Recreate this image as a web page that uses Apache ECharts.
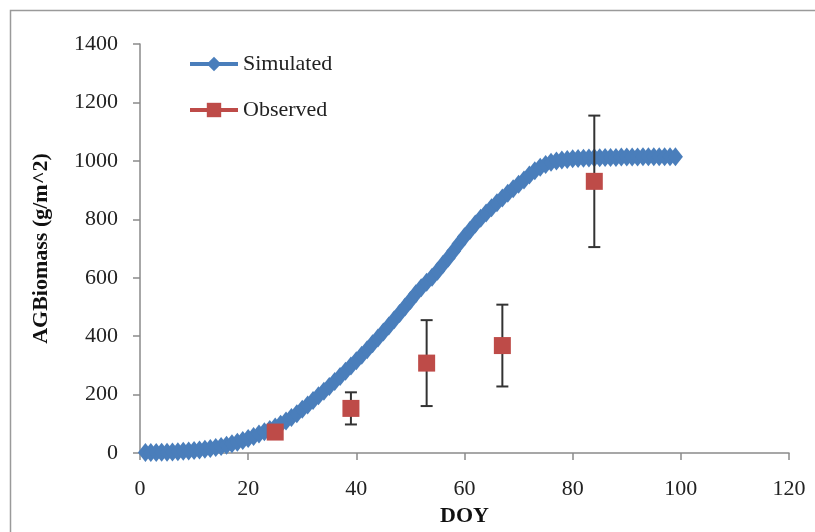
<!DOCTYPE html>
<html>
<head>
<meta charset="utf-8">
<script src="https://cdn.jsdelivr.net/npm/echarts@6/dist/echarts.min.js"></script>
<style>
html,body{margin:0;padding:0;background:#fff;}
#chart{width:815px;height:532px;}
</style>
</head>
<body>
<div id="chart"></div>
<script>
// Simulated AG biomass, DOY 1..99
var simDoy = [];
for (var d = 1; d <= 99; d++) simDoy.push(d);
var simVal = [
  2, 2, 2, 3, 3, 4, 5, 6, 7, 9,
  11, 13, 16, 19, 23, 27, 32, 37, 43, 50,
  57, 65, 73, 81, 89, 99, 110, 122, 135, 150,
  165, 180, 196, 212, 228, 245, 262, 280, 298, 316,
  335, 354, 374, 394, 414, 435, 456, 478, 500, 522,
  545, 566, 585, 602, 622, 645, 668, 692, 716, 740,
  762, 784, 804, 822, 840, 857, 873, 889, 905, 920,
  935, 952, 966, 978, 988, 995, 1000, 1003, 1005, 1007,
  1008, 1009, 1010, 1011, 1011, 1012, 1012, 1012, 1013, 1013,
  1013, 1013, 1014, 1014, 1014, 1014, 1014, 1014, 1014
];
// Observed with error bars
var obsDoy = [25, 39, 53, 67, 84];
var obsVal = [72, 153, 308, 368, 930];
var obsErr = [12, 55, 147, 140, 225];

var xTicks = [0, 20, 40, 60, 80, 100, 120];
var yTicks = [0, 200, 400, 600, 800, 1000, 1200, 1400];

var simData = simDoy.map(function (d, i) { return [d, simVal[i]]; });
var obsData = obsDoy.map(function (d, i) { return [d, obsVal[i]]; });
var errData = obsDoy.map(function (d, i) { return [d, obsVal[i] - obsErr[i], obsVal[i] + obsErr[i]]; });

var serif = '"Liberation Serif", "Times New Roman", serif';
var blue = '#4A7EBB';
var red = '#BE4B48';

var chart = echarts.init(document.getElementById('chart'));
chart.setOption({
  animation: false,
  backgroundColor: '#fff',
  graphic: [{
    type: 'polyline',
    shape: { points: [[10.5, 532], [10.5, 10.5], [815, 10.5]] },
    style: { stroke: '#9a9a9a', lineWidth: 1.5, fill: null },
    silent: true
  }],
  grid: { left: 140, right: 26, top: 44, bottom: 74 },
  legend: {
    left: 183, top: 48, orient: 'vertical', itemWidth: 48, itemHeight: 18, itemGap: 24,
    textStyle: { fontFamily: serif, fontSize: 22, color: '#222' },
    data: [
      { name: 'Simulated', lineStyle: { color: blue, width: 4, opacity: 1 } },
      { name: 'Observed', lineStyle: { color: red, width: 4, opacity: 1 } }
    ]
  },
  xAxis: {
    type: 'value', min: xTicks[0], max: xTicks[xTicks.length - 1], interval: 20,
    name: 'DOY', nameLocation: 'middle', nameGap: 40,
    nameTextStyle: { fontFamily: serif, fontSize: 22, fontWeight: 'bold', color: '#111' },
    axisLine: { show: true, lineStyle: { color: '#8a8a8a', width: 1.5 } },
    axisTick: { show: true, inside: false, length: 7, lineStyle: { color: '#8a8a8a', width: 1.5 } },
    axisLabel: { margin: 25, fontFamily: serif, fontSize: 22, color: '#222', formatter: function (v) { return String(v); } },
    splitLine: { show: false }
  },
  yAxis: {
    type: 'value', min: yTicks[0], max: yTicks[yTicks.length - 1], interval: 200,
    name: 'AGBiomass (g/m^2)', nameLocation: 'middle', nameGap: 88,
    nameTextStyle: { fontFamily: serif, fontSize: 22, fontWeight: 'bold', color: '#111' },
    axisLine: { show: true, lineStyle: { color: '#8a8a8a', width: 1.5 } },
    axisTick: { show: true, inside: false, length: 7, lineStyle: { color: '#8a8a8a', width: 1.5 } },
    axisLabel: { margin: 22, fontFamily: serif, fontSize: 22, color: '#222', formatter: function (v) { return String(v); } },
    splitLine: { show: false }
  },
  series: [
    {
      name: 'Simulated', type: 'line', data: simData,
      symbol: 'diamond', symbolSize: [15, 19], showAllSymbol: true,
      lineStyle: { color: blue, width: 6 },
      itemStyle: { color: blue },
      z: 2
    },
    {
      name: 'ObsErr', type: 'custom', data: errData, z: 3,
      renderItem: function (params, api) {
        var x = api.value(0);
        var lo = api.coord([x, api.value(1)]);
        var hi = api.coord([x, api.value(2)]);
        var hw = 6;
        var st = { stroke: '#333', lineWidth: 2 };
        return {
          type: 'group',
          children: [
            { type: 'line', shape: { x1: lo[0], y1: lo[1], x2: hi[0], y2: hi[1] }, style: st },
            { type: 'line', shape: { x1: lo[0] - hw, y1: lo[1], x2: lo[0] + hw, y2: lo[1] }, style: st },
            { type: 'line', shape: { x1: hi[0] - hw, y1: hi[1], x2: hi[0] + hw, y2: hi[1] }, style: st }
          ]
        };
      }
    },
    {
      name: 'Observed', type: 'line', data: obsData,
      symbol: 'rect', symbolSize: 17,
      lineStyle: { width: 0, opacity: 0 },
      itemStyle: { color: red },
      z: 4
    }
  ]
});
</script>
</body>
</html>
